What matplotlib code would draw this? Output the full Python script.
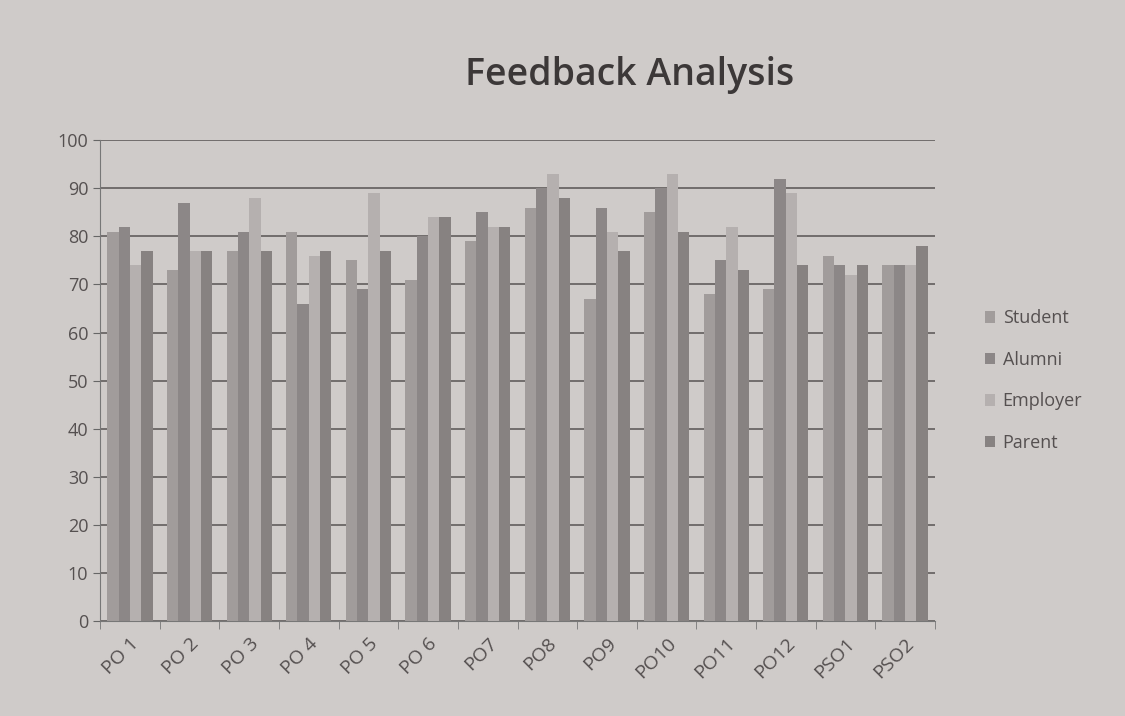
import numpy as np
import matplotlib.pyplot as plt

# values
categories = ["PO 1", "PO 2", "PO 3", "PO 4", "PO 5", "PO 6", "PO7", "PO8",
              "PO9", "PO10", "PO11", "PO12", "PSO1", "PSO2"]
student = [81, 73, 77, 81, 75, 71, 79, 86, 67, 85, 68, 69, 76, 74]
alumni = [82, 87, 81, 66, 69, 80, 85, 90, 86, 90, 75, 92, 74, 74]
employer = [74, 77, 88, 76, 89, 84, 82, 93, 81, 93, 82, 89, 72, 74]
parent = [77, 77, 77, 77, 77, 84, 82, 88, 77, 81, 73, 74, 74, 78]

series = [("Student", student, "#a19c9b"),
          ("Alumni", alumni, "#8c8787"),
          ("Employer", employer, "#b5b0af"),
          ("Parent", parent, "#878281")]

bg = "#cfcbc9"
plt.rcParams["font.family"] = ["Open Sans", "DejaVu Sans"]

fig = plt.figure(figsize=(11.25, 7.16), dpi=100, facecolor=bg)
ax = fig.add_axes([0.089, 0.133, 0.742, 0.671], facecolor=bg)

x = np.arange(len(categories))
w = 0.19
for i, (name, vals, col) in enumerate(series):
    ax.bar(x + (i - 1.5) * w, vals, width=w, color=col, label=name, zorder=3)

ax.set_ylim(0, 100)
ax.set_xlim(-0.5, len(categories) - 0.5)
ax.set_yticks(range(0, 101, 10))
ax.tick_params(axis="y", labelsize=13, colors="#555050", length=5, color="#666")
ax.set_xticks(x)
ax.set_xticklabels(categories, rotation=45, ha="right", rotation_mode="anchor",
                   fontsize=14, color="#555050")
# tick marks sit between the groups, not under them
ax.set_xticks(np.arange(len(categories) + 1) - 0.5, minor=True)
ax.tick_params(axis="x", which="major", length=0, pad=10)
ax.tick_params(axis="x", which="minor", length=6, color="#777")
ax.grid(axis="y", color="#6a6665", linewidth=1.3, zorder=0)
for s in ["top", "right"]:
    ax.spines[s].set_visible(False)
ax.spines["left"].set_color("#777")
ax.spines["bottom"].set_color("#777")

fig.text(0.56, 0.895, "Feedback Analysis", ha="center", va="center",
         fontsize=27, color="#3c3838", fontweight="semibold")

leg = ax.legend(loc="center left", bbox_to_anchor=(1.04, 0.5), frameon=False,
                fontsize=13, labelspacing=1.3, handlelength=0.6, handleheight=0.6,
                handletextpad=0.4)
for t in leg.get_texts():
    t.set_color("#555050")

fig.savefig("out.png", dpi=100, facecolor=bg)
